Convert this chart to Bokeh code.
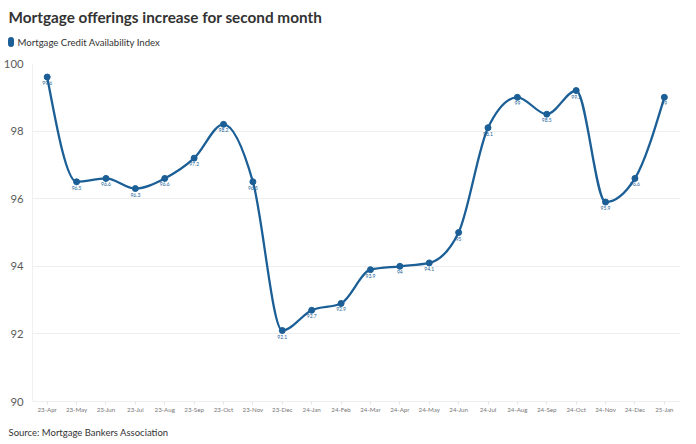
import numpy as np
from bokeh.plotting import figure
from bokeh.layouts import column
from bokeh.models import FixedTicker, Range1d, ColumnDataSource
from bokeh.core.properties import value
from bokeh.embed import file_html
from bokeh.resources import INLINE

title_text = "Mortgage offerings increase for second month"
legend_text = "Mortgage Credit Availability Index"
source_text = "Source: Mortgage Bankers Association"

months = ["23-Apr", "23-May", "23-Jun", "23-Jul", "23-Aug", "23-Sep", "23-Oct", "23-Nov",
          "23-Dec", "24-Jan", "24-Feb", "24-Mar", "24-Apr", "24-May", "24-Jun", "24-Jul",
          "24-Aug", "24-Sep", "24-Oct", "24-Nov", "24-Dec", "25-Jan"]
values = [99.6, 96.5, 96.6, 96.3, 96.6, 97.2, 98.2, 96.5, 92.1, 92.7, 92.9, 93.9,
          94.0, 94.1, 95.0, 98.1, 99.0, 98.5, 99.2, 95.9, 96.6, 99.0]
point_labels = ["99.6", "96.5", "96.6", "96.3", "96.6", "97.2", "98.2", "96.5", "92.1",
                "92.7", "92.9", "93.9", "94", "94.1", "95", "98.1", "99", "98.5", "99.2",
                "95.9", "96.6", "99"]
y_ticks = [90, 92, 94, 96, 98, 100]

BLUE = "#1b5f96"
FONT = "Lato"
W = 696


def blank(height):
    f = figure(width=W, height=height, output_backend="svg", toolbar_location=None,
               x_range=Range1d(0, W), y_range=Range1d(height, 0),
               min_border=0, outline_line_color=None, background_fill_color="white",
               border_fill_color="white")
    f.axis.visible = False
    f.grid.visible = False
    if "frame_align" in type(f).properties():
        f.frame_align = False
    return f


# ---- header: title + legend ----
head = blank(56)
head.text(x=[8], y=[16], text=[title_text], text_font=value(FONT), text_font_size="15.3px",
          text_font_style="bold", text_color="#333333", text_baseline="middle")
head.quad(left=[8], right=[13], top=[37], bottom=[46], color=BLUE, border_radius=2)
head.text(x=[17], y=[41.5], text=[legend_text], text_font=value(FONT), text_font_size="9.6px",
          text_color="#333333", text_baseline="middle")

# ---- main chart ----
x = np.arange(len(values), dtype=float)
y = np.array(values, dtype=float)

# monotone-x cubic (d3 curveMonotoneX) control points from the data
h = 1.0
s = np.diff(y) / h
t = np.zeros_like(y)
for i in range(1, len(y) - 1):
    s0, s1 = s[i - 1], s[i]
    if s0 * s1 <= 0:
        t[i] = 0.0
    else:
        pp = (s0 + s1) / 2.0
        t[i] = (np.sign(s0) + np.sign(s1)) * min(abs(s0), abs(s1), 0.5 * abs(pp))
t[0] = (3 * s[0] - t[1]) / 2.0
t[-1] = (3 * s[-1] - t[-2]) / 2.0

bez = ColumnDataSource(dict(
    x0=x[:-1], y0=y[:-1], x1=x[1:], y1=y[1:],
    cx0=x[:-1] + h / 3, cy0=y[:-1] + t[:-1] * h / 3,
    cx1=x[1:] - h / 3, cy1=y[1:] - t[1:] * h / 3,
))
pts = ColumnDataSource(dict(x=x, y=y, lab=point_labels))

p = figure(width=W, height=365, output_backend="svg", toolbar_location=None,
           x_range=Range1d(-0.5, 21.55), y_range=Range1d(90, 100),
           min_border_left=31, min_border_right=16, min_border_top=7, min_border_bottom=20,
           background_fill_color="white", border_fill_color="white", outline_line_color=None)
if "frame_align" in type(p).properties():
    p.frame_align = False

p.bezier(x0="x0", y0="y0", x1="x1", y1="y1", cx0="cx0", cy0="cy0", cx1="cx1", cy1="cy1",
         source=bez, line_color=BLUE, line_width=2.3)
p.scatter("x", "y", source=pts, size=6, color=BLUE)
p.text("x", "y", text="lab", source=pts, text_font=value(FONT),
       text_font_size="5px", text_color=BLUE, text_align="center", text_baseline="middle",
       y_offset=6)

p.xaxis.ticker = FixedTicker(ticks=list(range(len(months))))
p.xaxis.major_label_overrides = {i: m for i, m in enumerate(months)}
p.xaxis.major_label_text_font = FONT
p.xaxis.major_label_text_font_size = "6.2px"
p.xaxis.major_label_text_color = "#777777"
p.xaxis.axis_line_color = "#eeeeee"
p.xaxis.major_tick_line_color = "#e6e6e6"
p.xaxis.major_tick_in = 0
p.xaxis.major_tick_out = 3
p.xaxis.minor_tick_line_color = None
p.xaxis.major_label_standoff = 1

p.yaxis.ticker = FixedTicker(ticks=y_ticks)
p.yaxis.major_label_text_font = FONT
p.yaxis.major_label_text_font_size = "11.3px"
p.yaxis.major_label_text_color = "#5a5a5a"
p.yaxis.axis_line_color = "#f0f0f0"
p.yaxis.major_tick_line_color = None
p.yaxis.minor_tick_line_color = None
p.yaxis.major_label_standoff = 3

p.xgrid.grid_line_color = None
p.ygrid.grid_line_color = "#eeeeee"
p.ygrid.grid_line_width = 1

# ---- footer: source ----
foot = blank(23)
foot.text(x=[8], y=[10.5], text=[source_text], text_font=value(FONT), text_font_size="9.5px",
          text_color="#333333", text_baseline="middle")

layout = column(head, p, foot, spacing=0)
open("out.html", "w").write(file_html(layout, INLINE))
